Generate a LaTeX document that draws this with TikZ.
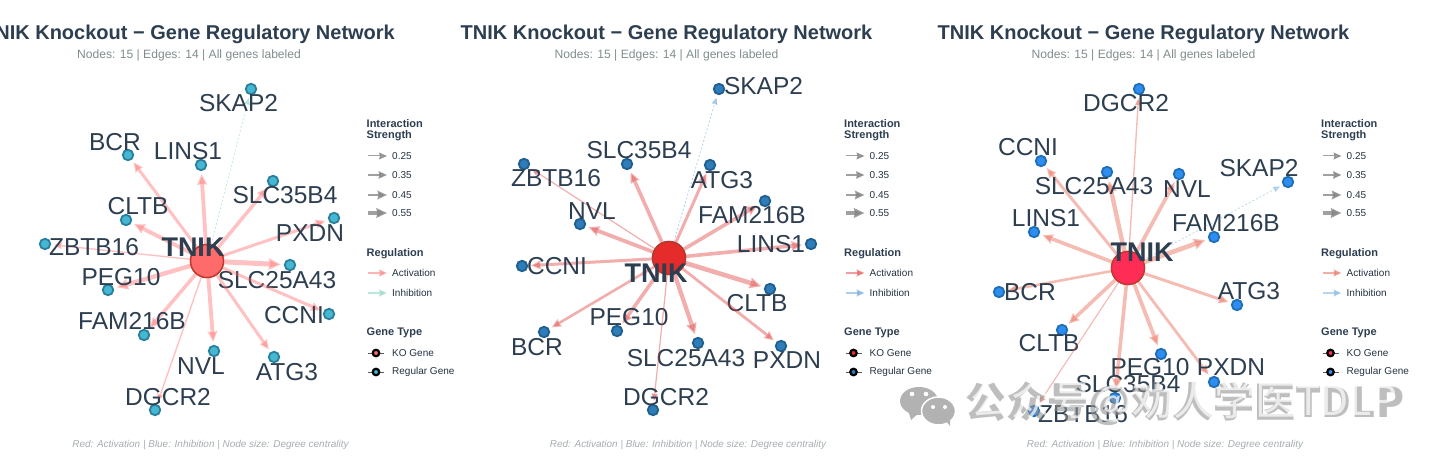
\documentclass[tikz,border=0pt]{standalone}
\usepackage{fontspec}
\setmainfont{Liberation Sans}
\newfontfamily\cjkfont{Noto Sans CJK SC}
\usetikzlibrary{arrows.meta,positioning}
\definecolor{inkblue}{HTML}{2C3E50}
\definecolor{subgray}{HTML}{7F8C8D}
\definecolor{footgray}{HTML}{A6ACAF}
\definecolor{wmgray}{HTML}{B2B2B2}
\definecolor{nodeA}{HTML}{45B7D1}
\definecolor{rimA}{HTML}{2A7F9E}
\definecolor{hubA}{HTML}{FF6B6B}
\definecolor{hubrimA}{HTML}{C0392B}
\definecolor{actA}{HTML}{FF6B6B}
\definecolor{inhA}{HTML}{7FCDBB}
\definecolor{nodeB}{HTML}{2E7DB8}
\definecolor{rimB}{HTML}{1F5F8F}
\definecolor{hubB}{HTML}{E62B2B}
\definecolor{hubrimB}{HTML}{B03A2E}
\definecolor{actB}{HTML}{E03C3C}
\definecolor{inhB}{HTML}{5B9BD5}
\definecolor{nodeC}{HTML}{2E8DF0}
\definecolor{rimC}{HTML}{1F6FB5}
\definecolor{hubC}{HTML}{FF2D55}
\definecolor{hubrimC}{HTML}{C0392B}
\definecolor{actC}{HTML}{E8604C}
\definecolor{inhC}{HTML}{6FAEDB}
\tikzset{
    genenode/.style={circle, draw, line width=1.8pt, minimum size=10.5pt, inner sep=0pt},
    hubnode/.style={circle, draw, line width=1.4pt, minimum size=33pt, inner sep=0pt},
    genelabel/.style={text=inkblue, inner sep=0pt, font=\fontsize{24.5}{25}\selectfont},
    hublabel/.style={text=inkblue, inner sep=0pt, font=\bfseries\fontsize{27}{27}\selectfont},
    titletext/.style={text=inkblue, inner sep=0pt, font=\bfseries\fontsize{20}{20}\selectfont},
    subtext/.style={text=subgray, inner sep=0pt, font=\fontsize{12.1}{13}\selectfont},
    foottext/.style={text=footgray, inner sep=0pt, font=\itshape\fontsize{9.95}{11}\selectfont},
    legendhead/.style={text=inkblue, inner sep=0pt, anchor=west, font=\bfseries\fontsize{11}{11}\selectfont},
    legendtext/.style={text=inkblue!80!black, inner sep=0pt, anchor=west, font=\fontsize{10}{10}\selectfont},
    regarrow/.style={-{Stealth[length=6pt 1.2, width=5pt 1.2, inset=1pt]}, opacity=0.42},
    weakarrow/.style={-{Stealth[length=7pt, width=6pt, inset=1pt]}, dash pattern=on 2pt off 2pt, line width=0.8pt, opacity=0.45},
    keyarrow/.style={-{Stealth[length=7pt 1, width=6pt 1, inset=1pt]}, gray, opacity=0.75},
    markfont/.style={inner sep=0pt, font=\cjkfont\fontsize{41}{43}\selectfont}
}
% legend column of one panel
\newcommand{\genelegend}[6]{
\begin{scope}[xshift=#2]
\node[legendhead] (#1-strength) at (366.5,123.5) {Interaction};
\node[legendhead] (#1-strength2) at (366.5,135.5) {Strength};
\foreach \val/\yy/\wid in {25/156/1, 35/175/1.5, 45/195/2.5, 55/213/3.6} {
    \coordinate (#1-s\val) at (368,\yy);
    \coordinate (#1-e\val) at (387,\yy);
    \draw[keyarrow, line width=\wid pt] (#1-s\val) -- (#1-e\val);
    \node[legendtext] (#1-t\val) at (392,\yy) {0.\val};
}
\node[legendhead] (#1-regulation) at (366.5,254) {Regulation};
\coordinate (#1-as) at (368,273);
\coordinate (#1-ae) at (387,273);
\draw[-{Stealth[length=8pt, width=7pt, inset=1pt]}, #3, line width=1.5pt, opacity=0.5] (#1-as) -- (#1-ae);
\node[legendtext] (#1-act) at (392,273) {Activation};
\coordinate (#1-is) at (368,293);
\coordinate (#1-ie) at (387,293);
\draw[-{Stealth[length=8pt, width=7pt, inset=1pt]}, #4, line width=1.5pt, opacity=0.5] (#1-is) -- (#1-ie);
\node[legendtext] (#1-inh) at (392,293) {Inhibition};
\node[legendhead] (#1-genetype) at (366.5,333) {Gene Type};
\coordinate (#1-ks) at (368,353);
\coordinate (#1-ke) at (384,353);
\draw[gray!70!black, line width=1pt] (#1-ks) -- (#1-ke);
\node[genenode, draw=black, fill=#5, line width=2.2pt, minimum size=6.5pt] (#1-kodot) at (376,353) {};
\node[legendtext] (#1-ko) at (392,353) {KO Gene};
\coordinate (#1-rs) at (368,372);
\coordinate (#1-re) at (384,372);
\draw[gray!70!black, line width=1pt] (#1-rs) -- (#1-re);
\node[genenode, draw=black, fill=#6, line width=2.2pt, minimum size=6.5pt] (#1-regdot) at (376,372) {};
\node[legendtext] (#1-reg) at (392,372) {Regular Gene};
\end{scope}
}
% title, subtitle and caption of one panel
\newcommand{\genetitles}[2]{
\begin{scope}[xshift=#2]
\node[titletext] (#1-title) at (189,34.5) {TNIK Knockout − Gene Regulatory Network};
\node[subtext] (#1-sub) at (189,55.5) {Nodes: 15 | Edges: 14 | All genes labeled};
\node[foottext] (#1-foot) at (210.5,445) {Red: Activation | Blue: Inhibition | Node size: Degree centrality};
\end{scope}
}

\begin{document}
\begin{tikzpicture}[x=1pt, y=-1pt]
\useasboundingbox (0,0) rectangle (1440,462);

% first panel
\genetitles{pa}{0}
\node[hubnode, draw=hubrimA, fill=hubA] (pa-TNIK) at (207,261) {};
\foreach \gene/\nx/\ny/\lx/\ly/\wid in {
    BCR/128/155/115/142/3, LINS1/201/165/188/151/3.8, SLC35B4/273/181/285/195/3.5,
    CLTB/126/220/138/206/3.8, PXDN/334/218/310/233/3, ZBTB16/45/244/94/247/1.4,
    PEG10/108/290/121/277/4.4, SLC25A43/290/265/277/280/5, CCNI/329/314/294/315/3,
    FAM216B/144/335/132/321/3.5, NVL/214/351/201/366/3.8, ATG3/274/357/287/372/3,
    DGCR2/155/410/168/397/1.4} {
    \node[genenode, draw=rimA, fill=nodeA] (pa-\gene) at (\nx,\ny) {};
    \draw[regarrow, actA, line width=\wid pt, shorten >=3pt] (pa-TNIK) -- (pa-\gene);
    \node[genelabel] (pa-\gene-l) at (\lx,\ly) {\gene};
}
\node[genenode, draw=rimA, fill=nodeA] (pa-SKAP2) at (251,89) {};
\draw[weakarrow, inhA, shorten >=3pt] (pa-TNIK) -- (pa-SKAP2);
\node[genelabel] (pa-SKAP2-l) at (238.5,103) {SKAP2};
\node[hubnode, draw=hubrimA, fill=hubA] (pa-hubtop) at (207,261) {};
\node[hublabel] (pa-TNIK-l) at (193,247) {TNIK};
\genelegend{pa}{0}{actA}{inhA}{hubA}{nodeA}

% second panel
\genetitles{pb}{477.5}
\node[hubnode, draw=hubrimB, fill=hubB] (pb-TNIK) at (669,258) {};
\foreach \gene/\nx/\ny/\lx/\ly/\wid in {
    SLC35B4/627/164/639/150/3.6, ZBTB16/524/164/556/178/1.2, ATG3/710/165/722/180/3,
    FAM216B/765/201/752/215/3.6, NVL/580/224/592/211/3.8, LINS1/811/244/771/244/3.6,
    CCNI/522/266/557/266/3, CLTB/770/289/757/303/4.6, BCR/544/332/537/347/2.6,
    PEG10/617/331/629/317/3.6, SLC25A43/698/343/686/358/4.2, PXDN/781/346/787/360/2.8,
    DGCR2/653/410/666/397/1.2} {
    \node[genenode, draw=rimB, fill=nodeB] (pb-\gene) at (\nx,\ny) {};
    \draw[regarrow, actB, line width=\wid pt, shorten >=3pt] (pb-TNIK) -- (pb-\gene);
    \node[genelabel] (pb-\gene-l) at (\lx,\ly) {\gene};
}
\node[genenode, draw=rimB, fill=nodeB] (pb-SKAP2) at (719,89) {};
\draw[weakarrow, inhB, shorten >=3pt] (pb-TNIK) -- (pb-SKAP2);
\node[genelabel] (pb-SKAP2-l) at (763.5,86) {SKAP2};
\node[hubnode, draw=hubrimB, fill=hubB] (pb-hubtop) at (669,258) {};
\node[hublabel] (pb-TNIK-l) at (656,273) {TNIK};
\genelegend{pb}{477.5}{actB}{inhB}{hubB}{nodeB}

% third panel
\genetitles{pc}{954.5}
\node[hubnode, draw=hubrimC, fill=hubC] (pc-TNIK) at (1128,268) {};
\foreach \gene/\nx/\ny/\lx/\ly/\wid in {
    DGCR2/1139/89/1126/103/1.4, CCNI/1041/161/1028/147/3, SLC25A43/1107/172/1094/186/4.4,
    NVL/1179/174/1187/189/3.8, LINS1/1034/232/1046/218/3.6, FAM216B/1214/237/1226/223/4.6,
    BCR/999/292/1030/292/2.6, ATG3/1237/305/1249/291/3, CLTB/1062/330/1049/343/3.6,
    PEG10/1161/354/1150/367/3.8, PXDN/1214/382/1231/367/2.8, SLC35B4/1115/398/1128/384/3.6,
    ZBTB16/1034/411/1083/414/1.2} {
    \node[genenode, draw=rimC, fill=nodeC] (pc-\gene) at (\nx,\ny) {};
    \draw[regarrow, actC, line width=\wid pt, shorten >=3pt] (pc-TNIK) -- (pc-\gene);
    \node[genelabel] (pc-\gene-l) at (\lx,\ly) {\gene};
}
\node[genenode, draw=rimC, fill=nodeC] (pc-SKAP2) at (1288,182) {};
\draw[weakarrow, inhC, shorten >=3pt] (pc-TNIK) -- (pc-SKAP2);
\node[genelabel] (pc-SKAP2-l) at (1259,168) {SKAP2};
\node[hubnode, draw=hubrimC, fill=hubC] (pc-hubtop) at (1128,268) {};
\node[hublabel] (pc-TNIK-l) at (1142,252) {TNIK};
\genelegend{pc}{954.5}{actC}{inhC}{hubC}{nodeC}

% watermark
\fill[wmgray] (919,401) ellipse (19 and 14);
\fill[wmgray] (908,410) -- (911,420) -- (920,412) -- cycle;
\fill[wmgray, draw=white, line width=1.5pt] (938.5,411) ellipse (17 and 14);
\fill[wmgray] (945,420) -- (950,426) -- (950,418) -- cycle;
\fill[white] (912,394) circle (2.3) (926,394) circle (2.3) (933,407) circle (2) (945,407) circle (2);
\node[markfont, font=\cjkfont\bfseries\fontsize{41}{43}\selectfont, text=gray!85, opacity=0.6] (markshade) at (1185,403.5) {公众号@劝人学医TDLP};
\node[markfont, text=white, opacity=0.7] (mark) at (1184,402) {公众号@劝人学医TDLP};
\end{tikzpicture}
\end{document}
